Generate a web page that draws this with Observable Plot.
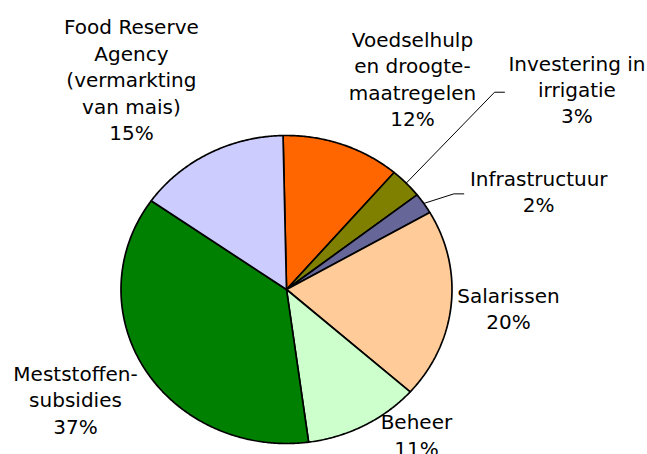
<!DOCTYPE html>
<html>
<head>
<meta charset="utf-8">
<script src="https://cdn.jsdelivr.net/npm/d3@7"></script>
<script src="https://cdn.jsdelivr.net/npm/@observablehq/plot@0.6"></script>
<style>
  html, body { margin: 0; padding: 0; background: #fff; }
  #chart svg { display: block; }
</style>
</head>
<body>
<div id="chart"></div>
<script>
// ---- data (clockwise from the top) ----
const categories = [
  "Voedselhulp en droogtemaatregelen",
  "Investering in irrigatie",
  "Infrastructuur",
  "Salarissen",
  "Beheer",
  "Meststoffensubsidies",
  "Food Reserve Agency (vermarkting van mais)"
];
const labelTexts = [
  "Voedselhulp\nen droogte-\nmaatregelen",
  "Investering in\nirrigatie",
  "Infrastructuur",
  "Salarissen",
  "Beheer",
  "Meststoffen-\nsubsidies",
  "Food Reserve\nAgency\n(vermarkting\nvan mais)"
];
const shares = [11.6, 3.2, 2.2, 19.9, 11.3, 36.9, 14.9];
const colors = ["#FF6600", "#808000", "#666699", "#FFCC99", "#CCFFCC", "#008000", "#CCCCFF"];

// ---- layout (pie units: -1..1 across the ellipse) ----
const startDeg = -1.2;
const labelX = [0.761, 1.755, 1.524, 1.341, 0.785, -1.275, -0.937];
const labelY = [1.373, 1.305, 0.643, -0.1155, -0.938, -0.708, 1.367];
const leaderSlices = [1, 2];
const leaderElbowX = [1.257, 1.011];
const leaderEndX = [1.317, 1.071];
const leaderY = [1.281, 0.621];

const total = d3.sum(shares);
let acc = startDeg;
const slices = shares.map((v, i) => {
  const a0 = acc, a1 = acc + v / total * 360;
  acc = a1;
  return {name: categories[i], a0, a1, color: colors[i], i};
});
const pt = deg => { const r = deg * Math.PI / 180; return [Math.sin(r), Math.cos(r)]; };

const polyPts = [];
for (const s of slices) {
  polyPts.push({name: s.name, x: 0, y: 0});
  const n = Math.max(4, Math.ceil((s.a1 - s.a0) / 0.5));
  for (let k = 0; k <= n; k++) {
    const [x, y] = pt(s.a0 + (s.a1 - s.a0) * k / n);
    polyPts.push({name: s.name, x, y});
  }
  polyPts.push({name: s.name, x: 0, y: 0});
}

const leaderPts = [];
leaderSlices.forEach((si, j) => {
  const s = slices[si];
  const [mx, my] = pt((s.a0 + s.a1) / 2);
  leaderPts.push({g: j, x: mx, y: my});
  leaderPts.push({g: j, x: leaderElbowX[j], y: leaderY[j]});
  leaderPts.push({g: j, x: leaderEndX[j], y: leaderY[j]});
});

const labels = slices.map((s, i) => ({
  x: labelX[i], y: labelY[i],
  text: labelTexts[i] + "\n" + Math.round(shares[i]) + "%"
}));

const cx = 286, cy = 289, rx = 165.5, ry = 154;

const chart = Plot.plot({
  width: 647,
  height: 454,
  margin: 0,
  style: {background: "#fff"},
  x: {domain: [-1, 1], range: [cx - rx, cx + rx], axis: null},
  y: {domain: [-1, 1], range: [cy + ry, cy - ry], axis: null},
  color: {domain: categories, range: colors},
  marks: [
    Plot.line(polyPts, {x: "x", y: "y", z: "name", fill: "name", stroke: "#000", strokeWidth: 1.7, strokeLinejoin: "miter"}),
    Plot.line(leaderPts, {x: "x", y: "y", z: "g", stroke: "#000", strokeWidth: 1}),
    Plot.text(labels, {x: "x", y: "y", text: "text", fill: "#000", fontSize: 20, lineHeight: 1.325, lineAnchor: "middle", textAnchor: "middle", fontFamily: "DejaVu Sans"})
  ]
});
document.getElementById("chart").appendChild(chart);
</script>
</body>
</html>
